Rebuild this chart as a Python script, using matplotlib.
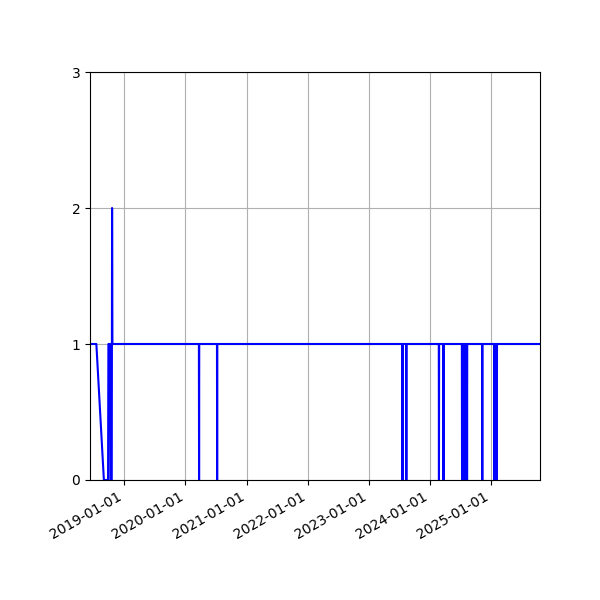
import numpy as np
import matplotlib
matplotlib.use("Agg")
import matplotlib.pyplot as plt
import matplotlib.dates as mdates

# change points of the daily count (value holds between neighbours)
dates = [
    "2018-06-10", "2018-07-18", "2018-09-01", "2018-09-26", "2018-09-28",
    "2018-10-08", "2018-10-10", "2018-10-18", "2018-10-20", "2018-10-22",
    "2020-03-22", "2020-03-23", "2020-03-24",
    "2020-07-08", "2020-07-09", "2020-07-10",
    "2023-07-21", "2023-07-22", "2023-07-23",
    "2023-08-13", "2023-08-14", "2023-08-15",
    "2024-02-24", "2024-02-25", "2024-02-26",
    "2024-03-22", "2024-03-23", "2024-03-24",
    "2024-07-11", "2024-07-12", "2024-07-13",
    "2024-07-17", "2024-07-18", "2024-07-19",
    "2024-07-23", "2024-07-24", "2024-07-25",
    "2024-07-29", "2024-07-30", "2024-07-31",
    "2024-08-04", "2024-08-05", "2024-08-06",
    "2024-08-10", "2024-08-11", "2024-08-12",
    "2024-11-09", "2024-11-10", "2024-11-11",
    "2025-01-21", "2025-01-22", "2025-01-23",
    "2025-02-04", "2025-02-05", "2025-02-06",
    "2025-10-21",
]
values = [
    1, 1, 0, 0, 1,
    1, 0, 0, 2, 1,
    1, 0, 1,
    1, 0, 1,
    1, 0, 1,
    1, 0, 1,
    1, 0, 1,
    1, 0, 1,
    1, 0, 1,
    1, 0, 1,
    1, 0, 1,
    1, 0, 1,
    1, 0, 1,
    1, 0, 1,
    1, 0, 1,
    1, 0, 1,
    1, 0, 1,
    1,
]

x = np.array(dates, dtype="datetime64[D]")
y = np.array(values)

fig, ax = plt.subplots(figsize=(6, 6), dpi=100)
ax.plot(x, y, color="blue")
ax.set_xlim(x[0], x[-1])
ax.set_ylim(0, 3)
ax.set_yticks([0, 1, 2, 3])
ax.xaxis.set_major_locator(mdates.YearLocator())
ax.xaxis.set_major_formatter(mdates.DateFormatter("%Y-%m-%d"))
ax.grid(True)
fig.autofmt_xdate()
fig.subplots_adjust(left=0.15, right=0.9, top=0.88, bottom=0.2)
fig.savefig("out.png")
